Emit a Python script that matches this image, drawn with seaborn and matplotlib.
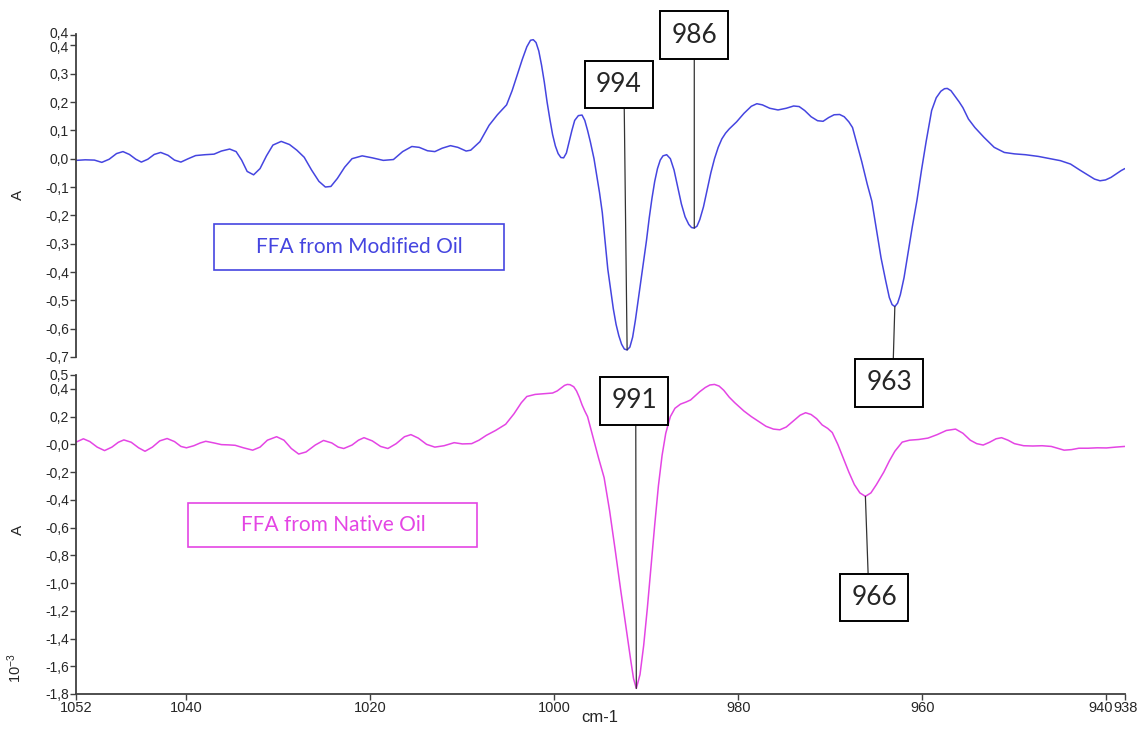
import numpy as np
import matplotlib
matplotlib.use("Agg")
import matplotlib.pyplot as plt
import matplotlib.transforms as mtransforms
from matplotlib.patches import Rectangle
import seaborn as sns

# spectra (wavenumber in cm-1, absorbance)
mod_wn = [1052.0, 1051.0, 1050.0, 1049.2, 1048.4, 1047.6, 1046.9, 1046.2, 1045.5, 1044.9,
          1044.2, 1043.5, 1042.8, 1042.0, 1041.3, 1040.6, 1039.8, 1039.0, 1038.0, 1037.0,
          1036.2, 1035.3, 1034.6, 1034.0, 1033.4, 1032.7, 1032.0, 1031.3, 1030.6, 1029.7,
          1028.8, 1028.0, 1027.2, 1026.4, 1025.6, 1024.9, 1024.3, 1023.6, 1022.8, 1022.0,
          1020.9, 1019.8, 1018.6, 1017.5, 1016.5, 1015.5, 1014.7, 1013.8, 1013.0, 1012.2,
          1011.3, 1010.5, 1009.6, 1009.1, 1008.1, 1007.1, 1006.2, 1005.2, 1004.6, 1004.0,
          1003.5, 1003.0, 1002.6, 1002.3, 1002.0, 1001.7, 1001.4, 1001.1, 1000.8, 1000.5,
          1000.2, 999.9, 999.6, 999.3, 999.0, 998.7, 998.4, 998.1, 997.8, 997.4,
          997.0, 996.7, 996.4, 996.1, 995.7, 995.4, 995.1, 994.8, 994.5, 994.2,
          993.9, 993.6, 993.3, 993.0, 992.7, 992.4, 992.1, 991.8, 991.5, 991.2,
          990.9, 990.6, 990.3, 990.0, 989.7, 989.4, 989.1, 988.8, 988.5, 988.2,
          987.8, 987.4, 987.0, 986.6, 986.2, 985.8, 985.4, 985.1, 984.8, 984.5,
          984.2, 983.8, 983.4, 983.0, 982.6, 982.2, 981.8, 981.4, 981.0, 980.2,
          979.4, 978.6, 978.0, 977.4, 976.6, 975.7, 974.8, 974.0, 973.4, 972.8,
          972.1, 971.4, 970.8, 970.2, 969.6, 969.0, 968.5, 968.0, 967.6, 967.1,
          966.6, 966.0, 965.5, 965.0, 964.5, 964.0, 963.6, 963.3, 963.0, 962.7,
          962.4, 962.0, 961.6, 961.1, 960.6, 960.1, 959.6, 959.0, 958.5, 958.0,
          957.6, 957.3, 956.9, 956.5, 956.0, 955.6, 955.0, 954.3, 953.3, 952.2,
          951.1, 950.0, 948.8, 947.4, 946.1, 945.0, 943.9, 942.9, 942.0, 941.3,
          940.7, 940.1, 939.5, 938.9, 938.4, 938.0]
mod_abs = [-0.006, -0.004, -0.005, -0.013, -0.002, 0.018, 0.025, 0.015, -0.002, -0.012,
           -0.002, 0.015, 0.022, 0.012, -0.005, -0.012, 0.0, 0.011, 0.014, 0.016,
           0.027, 0.034, 0.025, -0.005, -0.045, -0.057, -0.035, 0.01, 0.048, 0.061,
           0.05, 0.03, 0.005, -0.04, -0.08, -0.1, -0.098, -0.07, -0.03, 0.0,
           0.01, 0.003, -0.006, -0.003, 0.025, 0.043, 0.04, 0.028, 0.025, 0.037,
           0.046, 0.04, 0.027, 0.03, 0.06, 0.118, 0.155, 0.19, 0.24, 0.3,
           0.35, 0.395, 0.418, 0.42, 0.41, 0.38, 0.33, 0.27, 0.2, 0.14,
           0.085, 0.045, 0.018, 0.004, 0.003, 0.02, 0.06, 0.1, 0.135, 0.152,
           0.154, 0.135, 0.1, 0.06, 0.0, -0.06, -0.12, -0.19, -0.29, -0.39,
           -0.46, -0.53, -0.585, -0.625, -0.655, -0.672, -0.675, -0.665, -0.63, -0.57,
           -0.5, -0.43, -0.36, -0.29, -0.21, -0.14, -0.08, -0.035, -0.005, 0.01,
           0.014, 0.0, -0.04, -0.1, -0.16, -0.205, -0.232, -0.243, -0.245, -0.238,
           -0.215, -0.17, -0.11, -0.05, 0.0, 0.04, 0.07, 0.09, 0.105, 0.13,
           0.16, 0.185, 0.194, 0.19, 0.178, 0.172, 0.178, 0.186, 0.184, 0.17,
           0.148, 0.134, 0.132, 0.145, 0.155, 0.156, 0.148, 0.13, 0.11, 0.05,
           -0.01, -0.09, -0.15, -0.25, -0.35, -0.43, -0.49, -0.515, -0.522, -0.51,
           -0.48, -0.42, -0.34, -0.24, -0.148, -0.04, 0.06, 0.17, 0.215, 0.238,
           0.247, 0.248, 0.24, 0.222, 0.2, 0.18, 0.14, 0.11, 0.075, 0.04,
           0.022, 0.017, 0.014, 0.008, 0.0, -0.007, -0.019, -0.04, -0.058, -0.072,
           -0.078, -0.075, -0.066, -0.053, -0.042, -0.035]

nat_wn = [1052.0, 1051.2, 1050.5, 1049.7, 1048.9, 1048.1, 1047.4, 1046.8, 1046.0, 1045.2,
          1044.5, 1043.7, 1042.9, 1042.1, 1041.3, 1040.6, 1040.0, 1039.2, 1038.5, 1037.9,
          1037.0, 1036.2, 1035.4, 1034.7, 1033.8, 1032.8, 1032.0, 1031.2, 1030.2, 1029.4,
          1028.6, 1027.8, 1027.0, 1026.0, 1025.1, 1024.2, 1023.5, 1022.9, 1022.0, 1021.3,
          1020.7, 1019.8, 1018.9, 1018.1, 1017.2, 1016.3, 1015.6, 1014.8, 1013.9, 1013.0,
          1012.0, 1010.9, 1010.0, 1009.0, 1008.2, 1007.4, 1006.4, 1005.3, 1004.4, 1003.6,
          1003.0, 1002.1, 1001.2, 1000.2, 999.7, 999.3, 998.9, 998.6, 998.3, 997.9,
          997.6, 997.3, 997.0, 996.7, 996.4, 996.0, 995.6, 995.2, 994.6, 994.0,
          993.4, 992.8, 992.2, 991.7, 991.4, 991.1, 990.7, 990.3, 989.9, 989.5,
          989.1, 988.7, 988.3, 987.9, 987.4, 986.9, 986.3, 985.7, 985.2, 984.7,
          984.2, 983.6, 983.1, 982.6, 982.1, 981.6, 981.0, 980.4, 979.9, 979.4,
          978.6, 977.8, 977.0, 976.2, 975.5, 974.8, 974.0, 973.3, 972.7, 972.1,
          971.5, 970.9, 970.3, 969.8, 969.2, 968.6, 968.0, 967.4, 966.8, 966.2,
          965.6, 965.0, 964.2, 963.6, 963.0, 962.2, 961.4, 960.4, 959.4, 958.4,
          957.4, 956.4, 955.6, 954.8, 954.1, 953.4, 952.7, 952.0, 951.4, 950.7,
          950.0, 949.0, 948.0, 947.0, 946.0, 945.2, 944.6, 943.8, 943.0, 942.0,
          941.0, 940.0, 939.0, 938.0]
# x 10^-3
nat_abs = [0.016, 0.04, 0.02, -0.02, -0.045, -0.02, 0.015, 0.032, 0.015, -0.025,
           -0.05, -0.02, 0.025, 0.042, 0.02, -0.015, -0.025, -0.01, 0.01, 0.022,
           0.01, -0.002, -0.004, -0.007, -0.025, -0.042, -0.02, 0.03, 0.055, 0.03,
           -0.03, -0.07, -0.055, -0.005, 0.028, 0.01, -0.02, -0.03, -0.005, 0.03,
           0.048, 0.025, -0.015, -0.03, 0.005, 0.055, 0.07, 0.045, 0.0, -0.02,
           -0.01, 0.012, 0.003, 0.005, 0.03, 0.065, 0.1, 0.145, 0.22, 0.3,
           0.345, 0.36, 0.365, 0.37, 0.385, 0.405, 0.425, 0.432, 0.43, 0.415,
           0.385, 0.34, 0.285, 0.24, 0.2, 0.1, 0.0, -0.1, -0.24, -0.48,
           -0.76, -1.05, -1.33, -1.56, -1.69, -1.76, -1.66, -1.45, -1.18, -0.88,
           -0.58, -0.3, -0.08, 0.08, 0.2, 0.26, 0.29, 0.305, 0.32, 0.35,
           0.38, 0.41, 0.428, 0.432, 0.42, 0.39, 0.34, 0.3, 0.27, 0.24,
           0.2, 0.165, 0.13, 0.11, 0.105, 0.125, 0.17, 0.21, 0.228, 0.215,
           0.185, 0.14, 0.115, 0.085, 0.0, -0.1, -0.2, -0.29, -0.35, -0.375,
           -0.35, -0.29, -0.2, -0.12, -0.05, 0.016, 0.03, 0.035, 0.045, 0.07,
           0.1, 0.11, 0.08, 0.03, 0.005, -0.005, 0.015, 0.04, 0.048, 0.03,
           0.005, -0.01, -0.012, -0.01, -0.015, -0.03, -0.042, -0.038, -0.028, -0.028,
           -0.025, -0.026, -0.02, -0.015]

x_ticks = [1052, 1040, 1020, 1000, 980, 960, 940, 938]
top_ticks = [0.438, 0.4, 0.3, 0.2, 0.1, 0.0, -0.1, -0.2, -0.3, -0.4, -0.5, -0.6, -0.7]
top_ticklabels = ["0,4", "0,4", "0,3", "0,2", "0,1", "0,0", "-0,1", "-0,2", "-0,3",
                  "-0,4", "-0,5", "-0,6", "-0,7"]
bot_ticks = [0.5, 0.4, 0.2, 0.0, -0.2, -0.4, -0.6, -0.8, -1.0, -1.2, -1.4, -1.6, -1.8]
bot_ticklabels = ["0,5", "0,4", "0,2", "-0,0", "-0,2", "-0,4", "-0,6", "-0,8", "-1,0",
                  "-1,2", "-1,4", "-1,6", "-1,8"]

mod_peak_labels = ["994", "986", "963"]
mod_peak_wn = [992.1, 984.8, 963.0]
nat_peak_labels = ["991", "966"]
nat_peak_wn = [991.1, 966.2]

BLUE = "#4545e0"
PINK = "#e445e4"
TICK_FONT = ["Liberation Sans Narrow", "Liberation Sans", "DejaVu Sans"]
BOX_FONT = ["Lato", "DejaVu Sans"]

sns.set_style("white")
plt.rcParams["font.family"] = ["Liberation Sans", "DejaVu Sans"]
plt.rcParams["mathtext.default"] = "regular"

fig = plt.figure(figsize=(11.4, 7.35), dpi=100)
ax_top = fig.add_axes([0.0667, 0.5143, 0.9200, 0.4394])
ax_bot = fig.add_axes([0.0667, 0.0558, 0.9200, 0.4340])
ax_top.set_zorder(3)
ax_top.patch.set_alpha(0)

sns.lineplot(x=mod_wn, y=mod_abs, ax=ax_top, color=BLUE, linewidth=1.1, sort=False, estimator=None)
sns.lineplot(x=nat_wn, y=nat_abs, ax=ax_bot, color=PINK, linewidth=1.1, sort=False, estimator=None)

for ax in (ax_top, ax_bot):
    ax.set_xlim(1052, 938)
    ax.set_xlabel("")
    ax.set_ylabel("")
    for side in ("top", "right"):
        ax.spines[side].set_visible(False)
    ax.spines["left"].set_color("#404040")
    ax.spines["left"].set_linewidth(1.3)
    ax.tick_params(axis="both", direction="out", length=4, width=1, color="#404040",
                   labelsize=10, pad=1, left=True, bottom=True)

ax_top.spines["bottom"].set_visible(False)
ax_top.tick_params(axis="x", bottom=False, labelbottom=False)
ax_top.set_ylim(-0.7, 0.44)
ax_top.set_yticks(top_ticks)
ax_top.set_yticklabels(top_ticklabels, family=TICK_FONT)

ax_bot.spines["bottom"].set_color("#404040")
ax_bot.spines["bottom"].set_linewidth(1.3)
ax_bot.set_ylim(-1.8, 0.5)
ax_bot.set_yticks(bot_ticks)
ax_bot.set_yticklabels(bot_ticklabels, family=TICK_FONT)
ax_bot.set_xticks(x_ticks)
ax_bot.set_xticklabels([str(t) for t in x_ticks], family=TICK_FONT, fontsize=10.5)


def nudge(label, dx, dy):
    label.set_transform(label.get_transform() +
                        mtransforms.ScaledTranslation(dx / 72, dy / 72, fig.dpi_scale_trans))


# crowded neighbours: pull them apart a touch
xl = ax_bot.get_xticklabels()
nudge(xl[-2], -4.5, 0)
nudge(xl[-1], 0.5, 0)
yl = ax_top.get_yticklabels()
nudge(yl[0], 0, 1.5)
nudge(yl[1], 0, -0.5)


def label_peak(ax, wn, vals, target, text, offset, rel):
    i = int(np.argmin(np.abs(np.array(wn) - target)))
    ax.annotate(text, xy=(wn[i], vals[i]), xytext=offset, textcoords="offset points",
                ha="center", va="center", fontsize=19, family=BOX_FONT,
                bbox=dict(boxstyle="square,pad=0.42", fc="white", ec="black", lw=1.4),
                arrowprops=dict(arrowstyle="-", color="#333333", lw=0.9, relpos=rel,
                                shrinkA=0, shrinkB=0),
                annotation_clip=False, zorder=6)


mod_offsets = [(-5.8, 191), (0, 139), (-4, -55)]
mod_rel = [(0.61, 0), (0.5, 0), (0.58, 1)]
for lab, w, off, rel in zip(mod_peak_labels, mod_peak_wn, mod_offsets, mod_rel):
    label_peak(ax_top, mod_wn, mod_abs, w, lab, off, rel)

nat_offsets = [(-1.4, 207), (6.2, -73)]
nat_rel = [(0.53, 0), (0.38, 1)]
for lab, w, off, rel in zip(nat_peak_labels, nat_peak_wn, nat_offsets, nat_rel):
    label_peak(ax_bot, nat_wn, nat_abs, w, lab, off, rel)

# framed series names
W, H = 1140, 735
fig.patches.append(Rectangle((214 / W, 1 - 270 / H), 290 / W, 46 / H, transform=fig.transFigure,
                             fill=False, ec=BLUE, lw=1.2))
fig.text(359 / W, 1 - 247 / H, "FFA from Modified Oil", color=BLUE, fontsize=15,
         family=BOX_FONT, ha="center", va="center")
fig.patches.append(Rectangle((188 / W, 1 - 547 / H), 289 / W, 44 / H, transform=fig.transFigure,
                             fill=False, ec=PINK, lw=1.2))
fig.text(333 / W, 1 - 525 / H, "FFA from Native Oil", color=PINK, fontsize=15,
         family=BOX_FONT, ha="center", va="center")

fig.text(18 / W, 1 - 195 / H, "A", rotation=90, fontsize=11, ha="center", va="center")
fig.text(18 / W, 1 - 530 / H, "A", rotation=90, fontsize=11, ha="center", va="center")
fig.text(15 / W, 1 - 668 / H, r"$10^{-3}$", rotation=90, fontsize=10.5, ha="center", va="center")
fig.text(600 / W, 1 - 718 / H, "cm-1", fontsize=12, ha="center", va="center")

fig.savefig("out.png", dpi=100)
